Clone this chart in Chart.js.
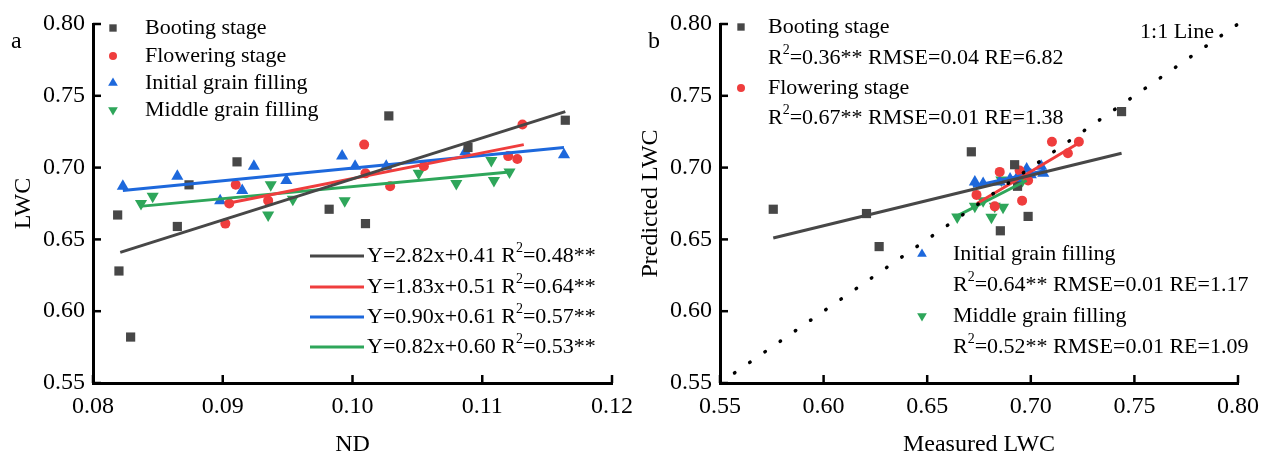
<!DOCTYPE html>
<html>
<head>
<meta charset="utf-8">
<script src="https://cdn.jsdelivr.net/npm/chart.js@4.4.1/dist/chart.umd.min.js"></script>
<style>
  html, body { margin: 0; padding: 0; background: #fff; }
  #wrap { position: relative; width: 1271px; height: 459px; }
  canvas { position: absolute; top: 0; }
  #ca { left: 0; }
  #cb { left: 630px; }
</style>
</head>
<body>
<div id="wrap">
  <canvas id="ca" width="645" height="459"></canvas>
  <canvas id="cb" width="641" height="459"></canvas>
</div>
<script>
// ---- panel a : ND vs LWC ----
const bootND  = [0.0819, 0.0820, 0.0829, 0.0865, 0.0874, 0.0911, 0.0982, 0.1010, 0.1028, 0.1089, 0.1164];
const bootLWC = [0.667, 0.628, 0.582, 0.659, 0.688, 0.704, 0.671, 0.661, 0.736, 0.714, 0.733];
const flowND  = [0.0902, 0.0905, 0.0910, 0.0935, 0.1009, 0.1010, 0.1029, 0.1055, 0.1120, 0.1127, 0.1131];
const flowLWC = [0.661, 0.675, 0.688, 0.677, 0.716, 0.696, 0.687, 0.701, 0.708, 0.706, 0.730];
const initND  = [0.0823, 0.0865, 0.0898, 0.0915, 0.0924, 0.0949, 0.0992, 0.1002, 0.1026, 0.1087, 0.1163];
const initLWC = [0.687, 0.694, 0.677, 0.684, 0.701, 0.691, 0.708, 0.701, 0.701, 0.711, 0.709];
const midND   = [0.0837, 0.0846, 0.0935, 0.0937, 0.0954, 0.0994, 0.1051, 0.1080, 0.1107, 0.1109, 0.1121];
const midLWC  = [0.675, 0.680, 0.667, 0.688, 0.678, 0.677, 0.696, 0.689, 0.705, 0.691, 0.697];

// fitted lines, end points
const bootFitND = [0.0821, 0.1164], bootFitLWC = [0.641, 0.739];
const flowFitND = [0.0903, 0.1132], flowFitLWC = [0.675, 0.716];
const initFitND = [0.0823, 0.1163], initFitLWC = [0.684, 0.714];
const midFitND  = [0.0836, 0.1121], midFitLWC  = [0.673, 0.697];

const fitLabels = [
  "Y=2.82x+0.41 R\u00b2=0.48**",
  "Y=1.83x+0.51 R\u00b2=0.64**",
  "Y=0.90x+0.61 R\u00b2=0.57**",
  "Y=0.82x+0.60 R\u00b2=0.53**",
];

// ---- panel b : measured vs predicted ----
const bootMeas = [0.5757, 0.6207, 0.6268, 0.6713, 0.6853, 0.6922, 0.6936, 0.6987, 0.7438];
const bootPred = [0.671, 0.668, 0.645, 0.711, 0.656, 0.702, 0.687, 0.666, 0.739];
const flowMeas = [0.6738, 0.6826, 0.6850, 0.6946, 0.6958, 0.6987, 0.7102, 0.7179, 0.7232];
const flowPred = [0.681, 0.673, 0.697, 0.698, 0.677, 0.691, 0.718, 0.710, 0.718];
const initMeas = [0.673, 0.677, 0.685, 0.690, 0.693, 0.698, 0.700, 0.705, 0.706];
const initPred = [0.690, 0.689, 0.690, 0.692, 0.692, 0.699, 0.695, 0.701, 0.696];
const midMeas  = [0.6645, 0.673, 0.677, 0.681, 0.6826, 0.6866, 0.6858, 0.696];
const midPred  = [0.6656, 0.673, 0.677, 0.6655, 0.673, 0.6724, 0.6914, 0.691];

const bootFitMeas = [0.5757, 0.7438], bootFitPred = [0.651, 0.710];
const flowFitMeas = [0.674, 0.723],   flowFitPred = [0.675, 0.717];
const initFitMeas = [0.672, 0.707],   initFitPred = [0.687, 0.698];
const midFitMeas  = [0.664, 0.698],   midFitPred  = [0.666, 0.691];
const oneLine = [0.557, 0.80];

const stageNames = ["Booting stage", "Flowering stage", "Initial grain filling", "Middle grain filling"];
const statLabels = [
  "R\u00b2=0.36** RMSE=0.04 RE=6.82",
  "R\u00b2=0.67** RMSE=0.01 RE=1.38",
  "R\u00b2=0.64** RMSE=0.01 RE=1.17",
  "R\u00b2=0.52** RMSE=0.01 RE=1.09",
];

const GRAY = "#474747", RED = "#ef3d3d", BLUE = "#1d68dc", GREEN = "#2ea65a";
const FONT = '"Liberation Serif", "Times New Roman", serif';
const markers = [
  { color: GRAY,  pointStyle: "rect",     rotation: 0,   radius: 6.5 },
  { color: RED,   pointStyle: "circle",   rotation: 0,   radius: 5 },
  { color: BLUE,  pointStyle: "triangle", rotation: 0,   radius: 7 },
  { color: GREEN, pointStyle: "triangle", rotation: 180, radius: 7 },
];

const pts = (xs, ys) => xs.map((x, i) => ({ x, y: ys[i] }));

function scatterSet(xs, ys, m) {
  return {
    type: "scatter", data: pts(xs, ys), backgroundColor: m.color, borderWidth: 0,
    pointStyle: m.pointStyle, rotation: m.rotation, pointRadius: m.radius, clip: false, order: 5,
  };
}
function fitSet(xs, ys, color, width) {
  return {
    type: "line", data: pts(xs, ys), borderColor: color, borderWidth: width || 3,
    pointRadius: 0, fill: false, tension: 0, clip: false, order: 2,
  };
}

// text with a raised "2" after R
function richText(ctx, str, x, y, size) {
  const parts = str.split("\u00b2");
  let cx = x;
  parts.forEach((p, i) => {
    ctx.font = size + "px " + FONT;
    ctx.fillText(p, cx, y);
    cx += ctx.measureText(p).width;
    if (i < parts.length - 1) {
      ctx.font = Math.round(size * 0.62) + "px " + FONT;
      ctx.fillText("2", cx, y - size * 0.34);
      cx += ctx.measureText("2").width;
    }
  });
}

const decor = {
  id: "decor",
  afterDraw(chart, args, opts) {
    const ctx = chart.ctx;
    const { x, y } = chart.scales;
    const area = chart.chartArea;
    ctx.save();
    // inward tick marks
    ctx.strokeStyle = "#000";
    ctx.lineWidth = 2.5;
    x.ticks.forEach(t => {
      const p = x.getPixelForValue(t.value);
      ctx.beginPath(); ctx.moveTo(p, area.bottom); ctx.lineTo(p, area.bottom - 8); ctx.stroke();
    });
    y.ticks.forEach(t => {
      const p = y.getPixelForValue(t.value);
      ctx.beginPath(); ctx.moveTo(area.left, p); ctx.lineTo(area.left + 8, p); ctx.stroke();
    });
    ctx.fillStyle = "#000";
    ctx.textBaseline = "middle";
    ctx.textAlign = "left";
    ctx.font = "24px " + FONT;
    ctx.fillText(opts.letter, opts.letterX, 42);
    (opts.items || []).forEach(it => {
      if (it.marker) {
        ctx.fillStyle = it.marker.color;
        Chart.helpers.drawPoint(ctx, { pointStyle: it.marker.pointStyle, rotation: it.marker.rotation, radius: it.marker.radius * 0.8, borderWidth: 0 }, it.mx, it.y);
      }
      if (it.line) {
        ctx.strokeStyle = it.line; ctx.lineWidth = 3;
        ctx.beginPath(); ctx.moveTo(it.lx0, it.y); ctx.lineTo(it.lx1, it.y); ctx.stroke();
      }
      ctx.fillStyle = "#000";
      ctx.textAlign = it.align || "left";
      richText(ctx, it.text, it.tx, it.y, 22);
      ctx.textAlign = "left";
    });
    ctx.restore();
  }
};

function scales(xMin, xMax, xStep, xTitle, yTitle, yWidth, yTitlePad) {
  const tickFont = { family: FONT, size: 24 };
  return {
    x: {
      type: "linear", min: xMin, max: xMax,
      ticks: { stepSize: xStep, color: "#000", font: tickFont, padding: 9, autoSkip: false, maxRotation: 0,
               callback: v => v.toFixed(2) },
      grid: { drawOnChartArea: false, drawTicks: false },
      border: { display: true, color: "#000", width: 3 },
      title: { display: true, text: xTitle, color: "#000", font: tickFont, padding: { top: 0, bottom: 0 } },
      afterFit: s => { s.height = 76; },
    },
    y: {
      type: "linear", min: 0.55, max: 0.80,
      ticks: { stepSize: 0.05, color: "#000", font: tickFont, padding: 8, autoSkip: false,
               callback: v => v.toFixed(2) },
      grid: { drawOnChartArea: false, drawTicks: false },
      border: { display: true, color: "#000", width: 3 },
      title: { display: true, text: yTitle, color: "#000", font: tickFont, padding: { top: yTitlePad, bottom: 0 } },
      afterFit: s => { s.width = yWidth; },
    },
  };
}

const common = {
  responsive: false, animation: false, devicePixelRatio: 1,
  plugins: { legend: { display: false }, tooltip: { enabled: false } },
};

new Chart(document.getElementById("ca"), {
  type: "scatter",
  data: {
    datasets: [
      fitSet(bootFitND, bootFitLWC, GRAY),
      fitSet(flowFitND, flowFitLWC, RED),
      fitSet(initFitND, initFitLWC, BLUE),
      fitSet(midFitND, midFitLWC, GREEN),
      scatterSet(bootND, bootLWC, markers[0]),
      scatterSet(flowND, flowLWC, markers[1]),
      scatterSet(initND, initLWC, markers[2]),
      scatterSet(midND, midLWC, markers[3]),
    ],
  },
  options: {
    ...common,
    layout: { padding: { left: 0, right: 33, top: 24, bottom: 0 } },
    scales: scales(0.08, 0.12, 0.01, "ND", "LWC", 93, 9),
    plugins: {
      ...common.plugins,
      decor: {
        letter: "a", letterX: 11,
        items: [
          ...stageNames.map((n, i) => ({ marker: markers[i], mx: 113, tx: 145, y: [28, 56, 83, 110][i], text: n })),
          ...fitLabels.map((t, i) => ({ line: [GRAY, RED, BLUE, GREEN][i], lx0: 310, lx1: 364, tx: 367, y: [256, 287, 317, 347][i], text: t })),
        ],
      },
    },
  },
  plugins: [decor],
});

const oneSet = {
  type: "line", data: pts(oneLine, oneLine), borderColor: "#000", borderWidth: 3.5,
  borderDash: [0.5, 18], borderCapStyle: "round", pointRadius: 0, fill: false, clip: false, order: 0,
};

new Chart(document.getElementById("cb"), {
  type: "scatter",
  data: {
    datasets: [
      oneSet,
      fitSet(bootFitMeas, bootFitPred, GRAY),
      fitSet(flowFitMeas, flowFitPred, RED),
      fitSet(initFitMeas, initFitPred, BLUE),
      fitSet(midFitMeas, midFitPred, GREEN),
      scatterSet(bootMeas, bootPred, markers[0]),
      scatterSet(flowMeas, flowPred, markers[1]),
      scatterSet(initMeas, initPred, markers[2]),
      scatterSet(midMeas, midPred, markers[3]),
    ],
  },
  options: {
    ...common,
    layout: { padding: { left: 0, right: 33, top: 24, bottom: 0 } },
    scales: scales(0.55, 0.80, 0.05, "Measured LWC", "Predicted LWC", 90, 6),
    plugins: {
      ...common.plugins,
      decor: {
        letter: "b", letterX: 18,
        items: [
          { marker: markers[0], mx: 111, tx: 138, y: 27, text: stageNames[0] },
          { tx: 138, y: 58, text: statLabels[0] },
          { marker: markers[1], mx: 111, tx: 138, y: 88, text: stageNames[1] },
          { tx: 138, y: 118, text: statLabels[1] },
          { marker: markers[2], mx: 292, tx: 323, y: 254, text: stageNames[2] },
          { tx: 323, y: 285, text: statLabels[2] },
          { marker: markers[3], mx: 292, tx: 323, y: 316, text: stageNames[3] },
          { tx: 323, y: 347, text: statLabels[3] },
          { tx: 584, y: 32, text: "1:1 Line", align: "right" },
        ],
      },
    },
  },
  plugins: [decor],
});
</script>
</body>
</html>
